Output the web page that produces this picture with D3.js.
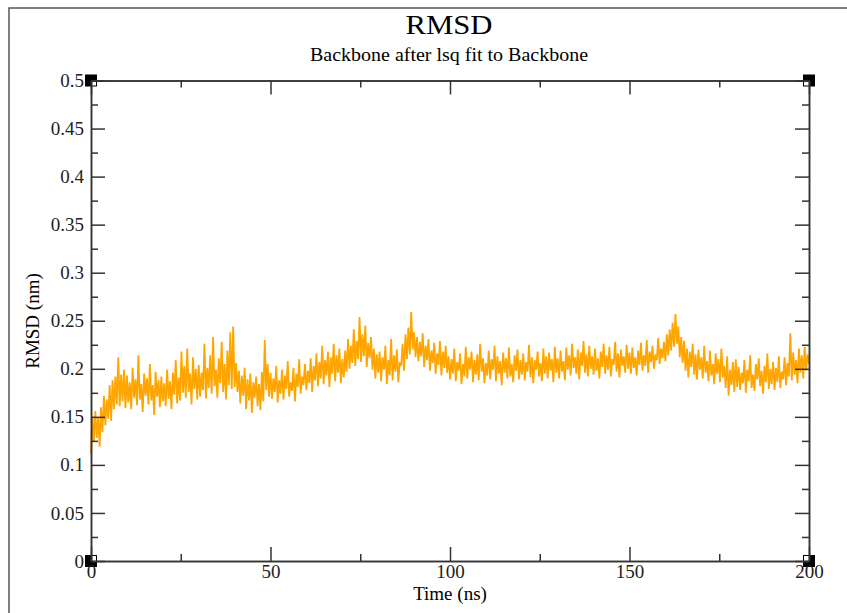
<!DOCTYPE html>
<html>
<head>
<meta charset="utf-8">
<script src="https://cdn.jsdelivr.net/npm/d3@7"></script>
<style>
	body { margin: 0; background: #fff; }
	svg { display: block; font-family: "Liberation Serif", "DejaVu Serif", serif; }
</style>
</head>
<body>
<svg id="chart" width="847" height="613"></svg>
<script>
	'use strict';

	const titleText = 'RMSD';
	const subtitleText = 'Backbone after lsq fit to Backbone';
	const xLabel = 'Time (ns)';
	const yLabel = 'RMSD (nm)';

	const xMajorTicks = [0, 50, 100, 150, 200];
	const xMinorTicks = [25, 75, 125, 175];
	const yMajorTicks = [0, 0.05, 0.1, 0.15, 0.2, 0.25, 0.3, 0.35, 0.4, 0.45, 0.5];
	const yMinorTicks = [0.025, 0.075, 0.125, 0.175, 0.225, 0.275, 0.325, 0.375, 0.425, 0.475];

	// one sample every 0.4 ns
	const timeStep = 0.4;
	const rmsd = [
		// 0 - 10 ns
		0.112, 0.150, 0.124, 0.156, 0.128, 0.149, 0.119, 0.160, 0.134, 0.172, 0.141, 0.168, 0.148,
		0.183, 0.146, 0.188, 0.158, 0.192, 0.163, 0.212, 0.161, 0.194, 0.166, 0.199, 0.159,
		// 10 - 20
		0.193, 0.165, 0.186, 0.158, 0.201, 0.170, 0.189, 0.162, 0.214, 0.168, 0.184, 0.155, 0.195,
		0.172, 0.190, 0.163, 0.205, 0.167, 0.183, 0.152, 0.197, 0.171, 0.188, 0.160, 0.192,
		// 20 - 30
		0.166, 0.185, 0.161, 0.199, 0.169, 0.187, 0.158, 0.196, 0.173, 0.209, 0.164, 0.191, 0.167,
		0.218, 0.175, 0.203, 0.170, 0.221, 0.176, 0.195, 0.163, 0.212, 0.179, 0.200, 0.168,
		// 30 - 40
		0.204, 0.171, 0.196, 0.178, 0.226, 0.169, 0.201, 0.180, 0.214, 0.174, 0.233, 0.182, 0.199,
		0.170, 0.211, 0.185, 0.228, 0.176, 0.205, 0.168, 0.219, 0.183, 0.238, 0.179, 0.244,
		// 40 - 50
		0.181, 0.206, 0.176, 0.198, 0.164, 0.193, 0.172, 0.201, 0.158, 0.189, 0.167, 0.195, 0.154,
		0.186, 0.170, 0.192, 0.161, 0.184, 0.157, 0.197, 0.166, 0.230, 0.178, 0.205, 0.171,
		// 50 - 60
		0.196, 0.169, 0.190, 0.176, 0.203, 0.165, 0.188, 0.174, 0.199, 0.168, 0.193, 0.179, 0.208,
		0.171, 0.186, 0.177, 0.201, 0.166, 0.195, 0.181, 0.210, 0.174, 0.192, 0.183, 0.205,
		// 60 - 70
		0.178, 0.198, 0.185, 0.211, 0.176, 0.203, 0.188, 0.216, 0.182, 0.207, 0.190, 0.224, 0.184,
		0.209, 0.193, 0.218, 0.181, 0.212, 0.195, 0.226, 0.187, 0.214, 0.196, 0.221, 0.185,
		// 70 - 80
		0.210, 0.191, 0.219, 0.197, 0.231, 0.200, 0.224, 0.206, 0.241, 0.203, 0.229, 0.210, 0.254,
		0.207, 0.236, 0.213, 0.245, 0.202, 0.227, 0.211, 0.233, 0.199, 0.221, 0.190, 0.215,
		// 80 - 90
		0.196, 0.218, 0.187, 0.212, 0.199, 0.224, 0.184, 0.209, 0.193, 0.231, 0.188, 0.214, 0.197,
		0.220, 0.186, 0.207, 0.203, 0.226, 0.198, 0.236, 0.210, 0.243, 0.215, 0.259, 0.220,
		// 90 - 100
		0.238, 0.212, 0.233, 0.208, 0.228, 0.213, 0.237, 0.202, 0.224, 0.209, 0.231, 0.198, 0.219,
		0.206, 0.227, 0.195, 0.216, 0.204, 0.229, 0.193, 0.218, 0.201, 0.224, 0.196, 0.213,
		// 100 - 110
		0.189, 0.210, 0.195, 0.221, 0.187, 0.207, 0.198, 0.216, 0.184, 0.205, 0.192, 0.223, 0.190,
		0.212, 0.199, 0.218, 0.186, 0.209, 0.194, 0.215, 0.188, 0.226, 0.197, 0.211, 0.185,
		// 110 - 120
		0.206, 0.193, 0.219, 0.189, 0.210, 0.199, 0.224, 0.187, 0.213, 0.195, 0.208, 0.183, 0.217,
		0.196, 0.211, 0.190, 0.222, 0.192, 0.205, 0.186, 0.214, 0.198, 0.220, 0.189, 0.209,
		// 120 - 130
		0.194, 0.216, 0.188, 0.207, 0.197, 0.225, 0.191, 0.212, 0.185, 0.209, 0.199, 0.218, 0.192,
		0.206, 0.187, 0.221, 0.195, 0.213, 0.190, 0.217, 0.198, 0.210, 0.186, 0.223, 0.196,
		// 130 - 140
		0.211, 0.190, 0.219, 0.197, 0.208, 0.188, 0.222, 0.199, 0.214, 0.193, 0.226, 0.201, 0.212,
		0.195, 0.220, 0.189, 0.217, 0.203, 0.229, 0.196, 0.215, 0.192, 0.224, 0.200, 0.213,
		// 140 - 150
		0.194, 0.221, 0.198, 0.211, 0.190, 0.218, 0.202, 0.226, 0.195, 0.214, 0.199, 0.223, 0.192,
		0.210, 0.204, 0.228, 0.197, 0.216, 0.191, 0.220, 0.203, 0.213, 0.196, 0.225, 0.200,
		// 150 - 160
		0.217, 0.195, 0.222, 0.201, 0.212, 0.193, 0.219, 0.204, 0.227, 0.198, 0.214, 0.203, 0.230,
		0.196, 0.218, 0.207, 0.224, 0.200, 0.215, 0.209, 0.232, 0.205, 0.221, 0.211, 0.228,
		// 160 - 170
		0.208, 0.236, 0.214, 0.241, 0.219, 0.248, 0.223, 0.257, 0.226, 0.244, 0.212, 0.233, 0.206,
		0.229, 0.198, 0.221, 0.191, 0.218, 0.202, 0.226, 0.194, 0.215, 0.189, 0.220, 0.199,
		// 170 - 180
		0.212, 0.190, 0.224, 0.196, 0.208, 0.187, 0.219, 0.193, 0.205, 0.184, 0.216, 0.195, 0.210,
		0.186, 0.221, 0.191, 0.203, 0.180, 0.213, 0.172, 0.199, 0.183, 0.207, 0.176, 0.210,
		// 180 - 190
		0.181, 0.202, 0.178, 0.196, 0.185, 0.209, 0.175, 0.199, 0.187, 0.214, 0.180, 0.194, 0.177,
		0.205, 0.189, 0.211, 0.182, 0.198, 0.174, 0.203, 0.186, 0.216, 0.179, 0.200, 0.184,
		// 190 - 200
		0.207, 0.178, 0.201, 0.186, 0.213, 0.180, 0.197, 0.189, 0.212, 0.183, 0.206, 0.192, 0.237,
		0.188, 0.217, 0.194, 0.209, 0.185, 0.221, 0.196, 0.214, 0.190, 0.223, 0.198, 0.215,
		0.205,
	];

	const svg = d3.select('#chart');
	const plot = { left: 91, right: 809, top: 80.5, bottom: 561 };
	const axisColor = '#333';

	const x = d3.scaleLinear().domain([0, 200]).range([plot.left, plot.right]);
	const y = d3.scaleLinear().domain([0, 0.5]).range([plot.bottom, plot.top]);

	// page frame
	svg.append('rect')
		.attr('x', 9).attr('y', 8)
		.attr('width', 900).attr('height', 700)
		.attr('fill', 'none')
		.attr('stroke', '#555')
		.attr('stroke-width', 1.5);

	// titles
	svg.append('text')
		.attr('x', 449).attr('y', 34)
		.attr('text-anchor', 'middle')
		.attr('font-size', 27)
		.attr('textLength', 87)
		.attr('lengthAdjust', 'spacingAndGlyphs')
		.text(titleText);

	svg.append('text')
		.attr('x', 449).attr('y', 61)
		.attr('text-anchor', 'middle')
		.attr('font-size', 18)
		.attr('textLength', 278)
		.attr('lengthAdjust', 'spacingAndGlyphs')
		.text(subtitleText);

	// data line
	const line = d3.line()
		.x((d, i) => x(i * timeStep))
		.y((d) => y(d));

	svg.append('path')
		.datum(rmsd)
		.attr('fill', 'none')
		.attr('stroke', '#ffa500')
		.attr('stroke-width', 1.8)
		.attr('stroke-linejoin', 'bevel')
		.attr('d', line);

	// corner markers
	const corners = [
		{ t: 0, v: 0.5, dx: 1, dy: 1 },
		{ t: 200, v: 0.5, dx: -1, dy: 1 },
		{ t: 0, v: 0, dx: 1, dy: -1 },
		{ t: 200, v: 0, dx: -1, dy: -1 },
	];
	corners.forEach((c) => {
		const cx = x(c.t);
		const cy = y(c.v);
		svg.append('rect')
			.attr('x', cx - 6).attr('y', cy - 6)
			.attr('width', 12).attr('height', 12)
			.attr('fill', '#000');
		svg.append('rect')
			.attr('x', c.dx > 0 ? cx : cx - 5)
			.attr('y', c.dy > 0 ? cy : cy - 5)
			.attr('width', 5).attr('height', 5)
			.attr('fill', '#fff');
	});

	function styleAxis(g) {
		g.select('.domain').attr('stroke', axisColor).attr('stroke-width', 1.5);
		g.selectAll('.tick line').attr('stroke', axisColor).attr('stroke-width', 1.5);
		g.selectAll('.tick text')
			.attr('fill', '#222')
			.attr('font-size', 19)
			.attr('font-family', '"Liberation Serif", serif');
	}

	// major ticks, inward, labels on left and bottom only
	svg.append('g')
		.attr('transform', `translate(0,${plot.bottom})`)
		.call(d3.axisBottom(x).tickValues(xMajorTicks).tickSize(-14).tickSizeOuter(0).tickPadding(4).tickFormat((d) => String(d)))
		.call(styleAxis);
	svg.append('g')
		.attr('transform', `translate(${plot.left},0)`)
		.call(d3.axisLeft(y).tickValues(yMajorTicks).tickSize(-14).tickSizeOuter(0).tickPadding(7).tickFormat((d) => String(d)))
		.call(styleAxis);
	svg.append('g')
		.attr('transform', `translate(0,${plot.top})`)
		.call(d3.axisTop(x).tickValues(xMajorTicks).tickSize(-14).tickSizeOuter(0).tickFormat(''))
		.call(styleAxis);
	svg.append('g')
		.attr('transform', `translate(${plot.right},0)`)
		.call(d3.axisRight(y).tickValues(yMajorTicks).tickSize(-14).tickSizeOuter(0).tickFormat(''))
		.call(styleAxis);

	// minor ticks
	svg.append('g')
		.attr('transform', `translate(0,${plot.bottom})`)
		.call(d3.axisBottom(x).tickValues(xMinorTicks).tickSize(-7).tickSizeOuter(0).tickFormat(''))
		.call(styleAxis);
	svg.append('g')
		.attr('transform', `translate(0,${plot.top})`)
		.call(d3.axisTop(x).tickValues(xMinorTicks).tickSize(-7).tickSizeOuter(0).tickFormat(''))
		.call(styleAxis);
	svg.append('g')
		.attr('transform', `translate(${plot.left},0)`)
		.call(d3.axisLeft(y).tickValues(yMinorTicks).tickSize(-7).tickSizeOuter(0).tickFormat(''))
		.call(styleAxis);
	svg.append('g')
		.attr('transform', `translate(${plot.right},0)`)
		.call(d3.axisRight(y).tickValues(yMinorTicks).tickSize(-7).tickSizeOuter(0).tickFormat(''))
		.call(styleAxis);

	// axis titles
	svg.append('text')
		.attr('x', 450).attr('y', 600)
		.attr('text-anchor', 'middle')
		.attr('font-size', 19)
		.text(xLabel);

	svg.append('text')
		.attr('transform', 'translate(39,321) rotate(-90)')
		.attr('text-anchor', 'middle')
		.attr('font-size', 19)
		.text(yLabel);
</script>
</body>
</html>
